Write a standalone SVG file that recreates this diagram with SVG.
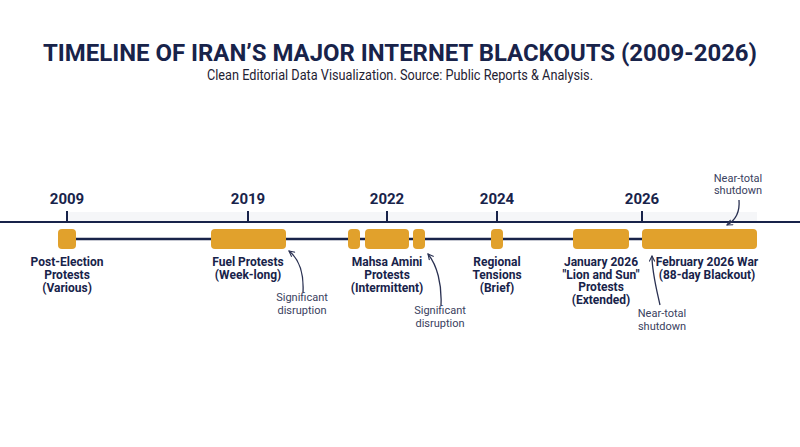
<svg xmlns="http://www.w3.org/2000/svg" width="800" height="447" viewBox="0 0 800 447">
<style>
.title{font-family:Roboto,"Liberation Sans",sans-serif;font-weight:700;fill:#18234a}
.sub{font-family:Roboto,"Liberation Sans",sans-serif;font-size:14px;fill:#1f2233}
.year{font-family:Roboto,"Liberation Sans",sans-serif;font-weight:700;font-size:15px;fill:#18234a;text-anchor:middle}
.lbl{font-family:Roboto,"Liberation Sans",sans-serif;font-weight:700;font-size:12px;fill:#18234a;text-anchor:middle}
.ann{font-family:Roboto,"Liberation Sans",sans-serif;font-size:11px;fill:#3a4160;text-anchor:middle}
.bar{fill:#e1a12c}
.axis{stroke:#18234a;stroke-width:2;fill:none}
.tick{stroke:#18234a;stroke-width:2}
.track{stroke:#18234a;stroke-width:2.5}
.arrow{stroke:#2a3152;stroke-width:1.3;fill:none;marker-end:url(#ah)}
</style>
<defs>
<marker id="ah" viewBox="0 0 10 10" refX="9" refY="5" markerWidth="7" markerHeight="7" markerUnits="userSpaceOnUse" orient="auto">
<path d="M1,1 L9,5 L1,9" fill="none" stroke="#2a3152" stroke-width="1.6"/>
</marker>
</defs>
<rect width="800" height="447" fill="#ffffff"/>
<g id="header">
<text class="title" x="400" y="61" font-size="24" text-anchor="middle" textLength="714" lengthAdjust="spacingAndGlyphs">TIMELINE OF IRAN’S MAJOR INTERNET BLACKOUTS (2009-2026)</text>
<text class="sub" x="400" y="80" text-anchor="middle" textLength="386" lengthAdjust="spacingAndGlyphs">Clean Editorial Data Visualization. Source: Public Reports &amp; Analysis.</text>
</g>
<g id="axis">
<rect x="67" y="212" width="690" height="10" fill="#f5f6f8"/>
<line class="axis" x1="0" y1="222" x2="800" y2="222"/>
<line class="tick" x1="67" y1="211" x2="67" y2="222"/>
<line class="tick" x1="248" y1="211" x2="248" y2="222"/>
<line class="tick" x1="387" y1="211" x2="387" y2="222"/>
<line class="tick" x1="497" y1="211" x2="497" y2="222"/>
<line class="tick" x1="642" y1="211" x2="642" y2="222"/>
<text class="year" x="67" y="204">2009</text>
<text class="year" x="248" y="204">2019</text>
<text class="year" x="387" y="204">2022</text>
<text class="year" x="497" y="204">2024</text>
<text class="year" x="642" y="204">2026</text>
<line class="track" x1="70" y1="239" x2="750" y2="239"/>
</g>
<g id="n2009">
<rect class="bar" x="58" y="229" width="18" height="20" rx="4"/>
<text class="lbl" x="67" y="266">Post-Election</text>
<text class="lbl" x="67" y="279">Protests</text>
<text class="lbl" x="67" y="292">(Various)</text>
</g>
<g id="n2019">
<rect class="bar" x="211" y="229" width="75" height="20" rx="4"/>
<text class="lbl" x="248" y="266">Fuel Protests</text>
<text class="lbl" x="248" y="279">(Week-long)</text>
</g>
<g id="n2022">
<rect class="bar" x="348" y="229" width="12" height="20" rx="4"/>
<rect class="bar" x="365" y="229" width="44" height="20" rx="4"/>
<rect class="bar" x="413" y="229" width="12" height="20" rx="4"/>
<text class="lbl" x="387" y="266">Mahsa Amini</text>
<text class="lbl" x="387" y="279">Protests</text>
<text class="lbl" x="387" y="292">(Intermittent)</text>
</g>
<g id="n2024">
<rect class="bar" x="491" y="229" width="12" height="20" rx="4"/>
<text class="lbl" x="497" y="266">Regional</text>
<text class="lbl" x="497" y="279">Tensions</text>
<text class="lbl" x="497" y="292">(Brief)</text>
</g>
<g id="n2026jan">
<rect class="bar" x="573" y="229" width="56" height="20" rx="4"/>
<text class="lbl" x="601" y="266">January 2026</text>
<text class="lbl" x="601" y="278.5">"Lion and Sun"</text>
<text class="lbl" x="601" y="291">Protests</text>
<text class="lbl" x="601" y="303.5">(Extended)</text>
</g>
<g id="n2026feb">
<rect class="bar" x="642" y="229" width="115" height="20" rx="4"/>
<text class="lbl" x="707" y="266">February 2026 War</text>
<text class="lbl" x="707" y="279">(88-day Blackout)</text>
</g>
<g id="annotations">
<text class="ann" x="302" y="301">Significant</text>
<text class="ann" x="302" y="314">disruption</text>
<text class="ann" x="440" y="314">Significant</text>
<text class="ann" x="440" y="327">disruption</text>
<text class="ann" x="662" y="317">Near-total</text>
<text class="ann" x="662" y="330">shutdown</text>
<text class="ann" x="738" y="182">Near-total</text>
<text class="ann" x="738" y="194">shutdown</text>
</g>
<g id="connectors">
<path class="arrow" d="M303,292 C304,272 299,259 289,251"/>
<path class="arrow" d="M441,305 C442,284 437,265 428,254"/>
<path class="arrow" d="M660,305 C656,287 652,272 652,256"/>
<path class="arrow" d="M739,200 C740,212 736,220 727,225"/>
</g>
</svg>
